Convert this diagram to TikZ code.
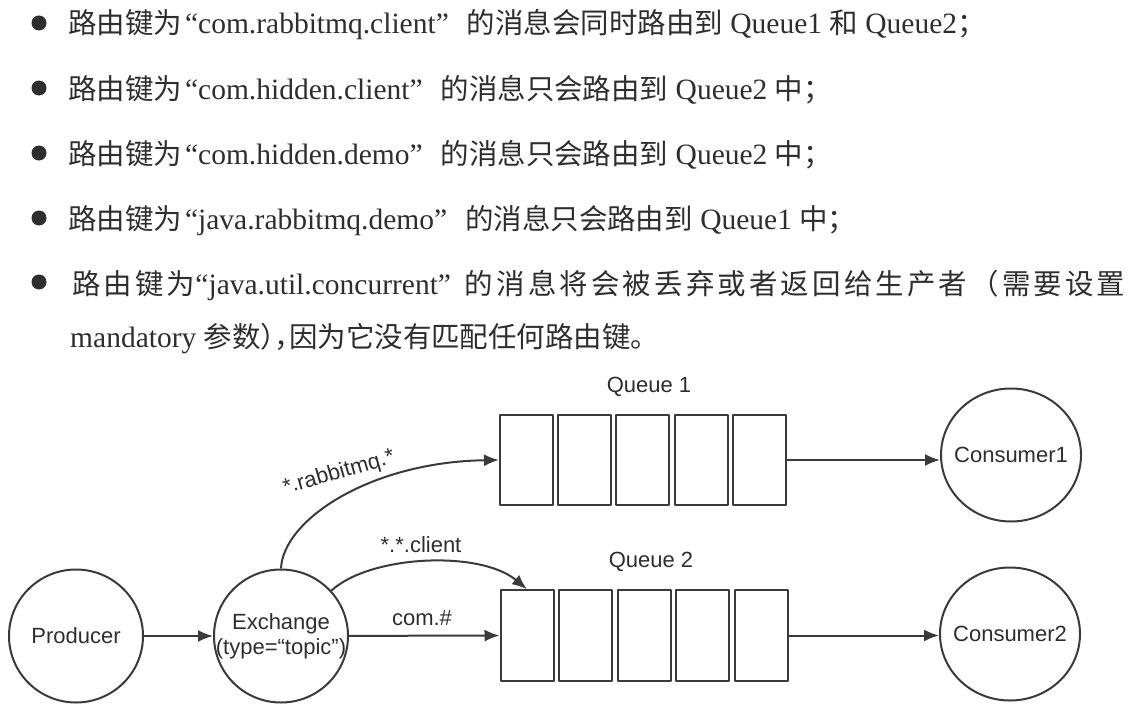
\documentclass[tikz,border=0pt]{standalone}
\usepackage{fontspec}
\setmainfont{Liberation Serif}
\newfontfamily\cjk{Noto Sans CJK SC}[Scale=0.965]
\newfontfamily\cjkwide{Noto Sans CJK SC}[Scale=0.965,LetterSpace=11]
\newfontfamily\cjkhalf{Noto Sans CJK SC}[Scale=0.965,RawFeature=+halt]
\newfontfamily\diagfont{Liberation Sans}
\usetikzlibrary{arrows.meta,shapes.geometric}
\definecolor{inkgray}{HTML}{2E2E2E}
\definecolor{linegray}{HTML}{3A3A3A}
\newcommand{\zh}[1]{{\cjk #1}}
\newcommand{\zhw}[1]{{\cjkwide #1}}
\newcommand{\zhh}[1]{{\cjkhalf #1}}
\begin{document}
\begin{tikzpicture}[x=1pt,y=-1pt,>={Latex[length=15pt,width=12pt]},line join=bevel,
  every node/.style={inner sep=0pt,text=inkgray},
  textline/.style={anchor=base west,font=\fontsize{29.5}{34}\selectfont},
  bulletdot/.style={circle,fill=inkgray,draw=none,minimum size=15pt},
  party/.style={ellipse,draw=linegray,line width=2pt,inner xsep=-24pt,minimum width=134pt,minimum height=133pt,align=center,font=\diagfont\fontsize{22}{25}\selectfont},
  cell/.style={rectangle,draw=linegray,line width=2pt,minimum width=53pt,minimum height=90.5pt},
  keylabel/.style={font=\diagfont\fontsize{22}{25}\selectfont},
  flow/.style={draw=linegray,line width=2pt,->}]
\useasboundingbox (0,0) rectangle (1140,717);

 \foreach \y [count=\n] in {23,88,153,218,282}
   \node (node_bullet_\n) at (39,\y) [bulletdot] {};

 \node (node_line_1) at (68,34) [textline] {\zh{路由键为}\hspace{3pt}“com.rabbitmq.client”\hspace{18pt}\zh{的消息会同时路由到} Queue1 \zh{和} Queue2\zh{；}};
 \node (node_line_2) at (68,99.5) [textline] {\zh{路由键为}\hspace{3pt}“com.hidden.client”\hspace{18pt}\zh{的消息只会路由到} Queue2 \zh{中；}};
 \node (node_line_3) at (68,164.5) [textline] {\zh{路由键为}\hspace{3pt}“com.hidden.demo”\hspace{18pt}\zh{的消息只会路由到} Queue2 \zh{中；}};
 \node (node_line_4) at (68,229.5) [textline] {\zh{路由键为}\hspace{3pt}“java.rabbitmq.demo”\hspace{18pt}\zh{的消息只会路由到} Queue1 \zh{中；}};
 \node (node_line_5) at (72,294) [textline] {\zhw{路由键为}“java.util.concurrent”\hspace{14pt}\zhw{的消息将会被丢弃或者返回给生产者（需要设置}};
 \node (node_line_6) at (70,347) [textline] {mandatory \zh{参数}\zhh{），}\zh{因为它没有匹配任何路由键。}};

 \node (node_producer) at (76,636) [party] {Producer};
 \node (node_exchange) at (281,636) [party] {Exchange\\(type=“topic”)};
 \node (node_consumer1) at (1011,455) [party,minimum width=140pt] {Consumer1};
 \node (node_consumer2) at (1010,634) [party,minimum width=140pt] {Consumer2};

 \foreach \i in {1,...,5} {
   \node (node_q1_\i) at ({526.5+58.2*(\i-1)},460) [cell] {};
   \node (node_q2_\i) at ({527+58.5*(\i-1)},635.5) [cell] {};
 }
 \node (node_queue1) at (649,387) [keylabel] {Queue 1};
 \node (node_queue2) at (651,562) [keylabel] {Queue 2};

 \node (node_key_rabbit) at (339,473) [keylabel,rotate=16] {*.rabbitmq.*};
 \node (node_key_client) at (421,545) [keylabel] {*.*.client};
 \node (node_key_com) at (422,618) [keylabel] {com.\#};

  \draw [flow] (node_producer) -- (node_exchange);
  \draw [flow] (node_exchange) -- (node_q2_1);
  \draw [flow] (node_exchange.north) .. controls (283,520) and (370,462) .. (node_q1_1.west);
  \draw [flow] (node_exchange.42) .. controls (370,555) and (480,550) .. (node_q2_1.north);
  \draw [flow] (node_q1_5.east) -- (node_q1_5.east -| node_consumer1.west);
  \draw [flow] (node_q2_5.east) -- (node_q2_5.east -| node_consumer2.west);

\end{tikzpicture}
\end{document}
